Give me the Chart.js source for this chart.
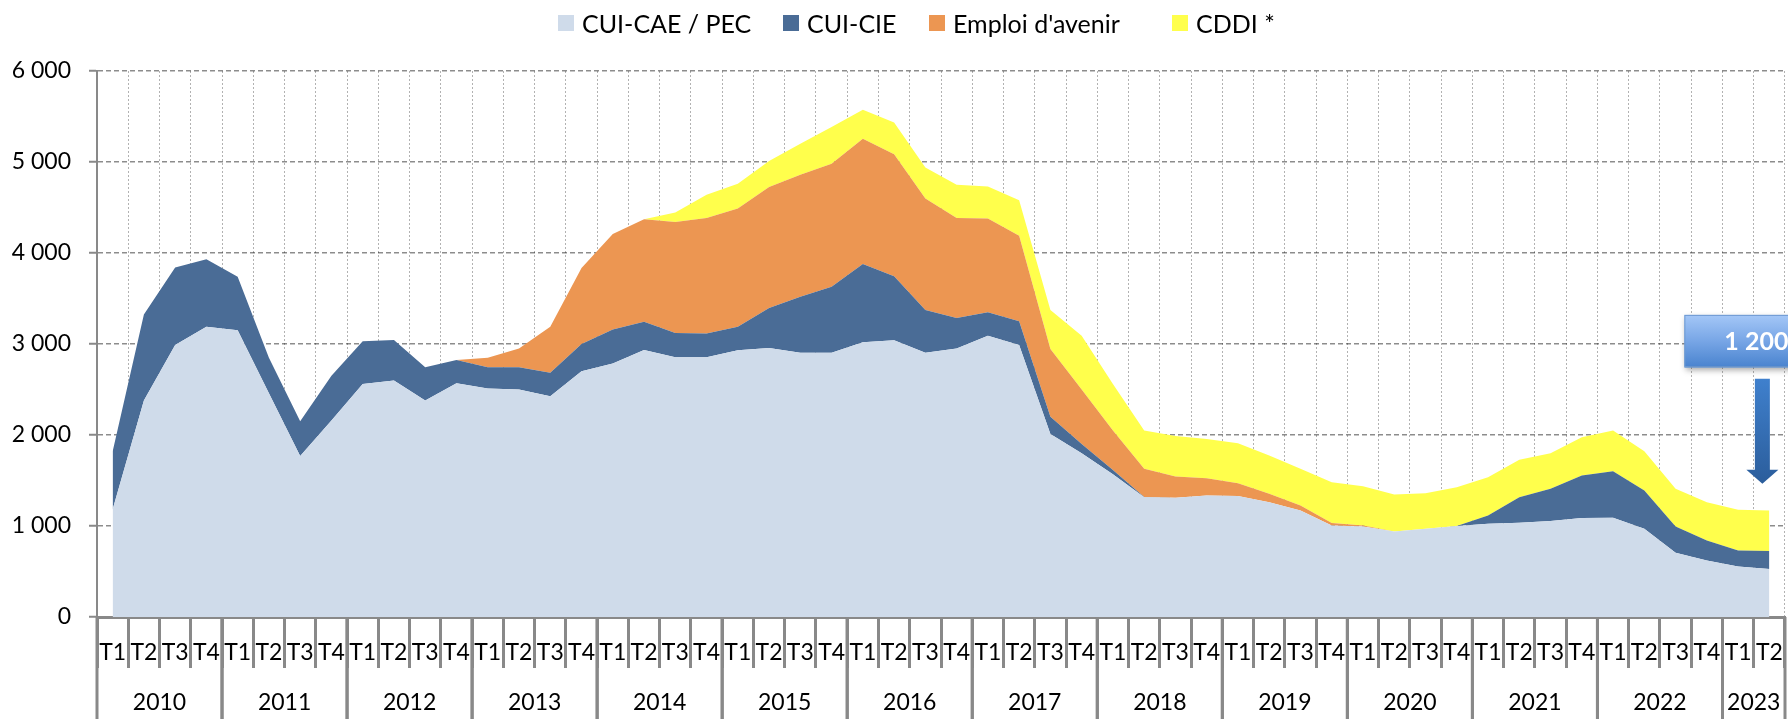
<!DOCTYPE html>
<html>
<head>
<meta charset="utf-8">
<script src="https://cdn.jsdelivr.net/npm/chart.js@4.4.0/dist/chart.umd.min.js"></script>
<style>
  body { margin: 0; background: #fff; }
  #wrap { position: relative; width: 1788px; height: 719px; }
  #legend { position: absolute; top: 0; left: 0; width: 1788px; height: 42px; font-family: Lato, sans-serif; font-size: 25px; color: #000; }
  #legend .item { position: absolute; top: 8px; height: 30px; display: flex; align-items: center; white-space: nowrap; }
  #legend .box { width: 16px; height: 16px; margin-right: 8px; }
</style>
</head>
<body>
<div id="wrap">
  <canvas id="myChart" width="1788" height="719"></canvas>
  <div id="legend"></div>
</div>
<script>
// données trimestrielles 2010 T1 -> 2023 T2
const years = ['2010', '2011', '2012', '2013', '2014', '2015', '2016', '2017', '2018', '2019', '2020', '2021', '2022', '2023']
const quarterNames = ['T1', 'T2', 'T3', 'T4']
const nbQuarters = 54
const seriesNames = ['CUI-CAE / PEC', 'CUI-CIE', "Emploi d'avenir", 'CDDI *']
const cuiCae = [1180, 2380, 2990, 3190, 3150, 2460, 1770, 2160, 2560, 2600, 2380, 2570, 2510, 2500, 2425, 2700, 2785, 2935, 2855, 2855, 2930, 2955, 2905, 2905, 3020, 3040, 2905, 2950, 3090, 2990, 2010, 1800, 1570, 1315, 1310, 1335, 1330, 1262, 1171, 1006, 995, 940, 970, 999, 1024, 1035, 1054, 1087, 1090, 970, 706, 622, 556, 527]
const cuiCie = [640, 945, 850, 740, 590, 390, 380, 490, 470, 445, 365, 255, 235, 245, 260, 300, 375, 310, 265, 260, 260, 440, 615, 725, 860, 705, 470, 335, 260, 260, 190, 100, 45, 5, 0, 0, 0, 0, 0, 0, 0, 0, 0, 0, 92, 282, 355, 468, 513, 420, 289, 220, 176, 197]
const emploiAvenir = [0, 0, 0, 0, 0, 0, 0, 0, 0, 0, 0, 0, 105, 205, 505, 835, 1050, 1125, 1220, 1270, 1300, 1330, 1340, 1350, 1375, 1340, 1225, 1100, 1030, 940, 745, 600, 435, 310, 235, 190, 140, 92, 55, 26, 11, 0, 0, 0, 0, 0, 0, 0, 0, 0, 0, 0, 0, 0]
const cddi = [0, 0, 0, 0, 0, 0, 0, 0, 0, 0, 0, 0, 0, 0, 0, 0, 0, 0, 105, 255, 270, 285, 340, 405, 320, 350, 340, 365, 350, 390, 430, 590, 510, 420, 445, 432, 440, 421, 402, 450, 432, 406, 391, 428, 421, 410, 391, 421, 446, 432, 414, 420, 446, 447]
const yTicks = [0, 1000, 2000, 3000, 4000, 5000, 6000]
const annotationText = '1 200'

const colors = ['#CFDBEA', '#4A6C96', '#EC9652', '#FFFF4C']
const legendX = [558, 783, 929, 1172]
const axisGrey = '#898989'
const fontFamily = 'Lato'

var categories = []
var categoryYears = []
years.forEach(function (year) {
  quarterNames.forEach(function (q) {
    if (categories.length < nbQuarters) {
      categories.push(q)
      categoryYears.push(year)
    }
  })
})

const fmt = (v) => String(v).replace(/\B(?=(\d{3})+(?!\d))/g, ' ')

// légende en html
const legend = document.getElementById('legend')
seriesNames.forEach(function (name, i) {
  const item = document.createElement('div')
  item.className = 'item'
  item.style.left = legendX[i] + 'px'
  item.innerHTML = '<span class="box" style="background:' + colors[i] + '"></span><span></span>'
  item.lastChild.textContent = name
  legend.appendChild(item)
})

// années sous les trimestres
const yearAxis = {
  id: 'yearAxis',
  afterDraw(chart) {
    const { ctx, chartArea, scales: { x } } = chart
    const half = (x.getPixelForValue(1) - x.getPixelForValue(0)) / 2
    ctx.save()
    ctx.strokeStyle = axisGrey
    ctx.lineWidth = 3
    ctx.fillStyle = '#000'
    ctx.font = '23px ' + fontFamily
    ctx.textAlign = 'center'
    ctx.textBaseline = 'middle'
    years.forEach(function (year) {
      const first = categoryYears.indexOf(year)
      const last = categoryYears.lastIndexOf(year)
      if (first < 0) return
      const left = x.getPixelForValue(first) - half
      const right = x.getPixelForValue(last) + half
      ;[left, right].forEach(function (px) {
        ctx.beginPath()
        ctx.moveTo(px, chartArea.bottom)
        ctx.lineTo(px, chart.height)
        ctx.stroke()
      })
      ctx.fillText(year, (left + right) / 2, 703)
    })
    ctx.restore()
  },
}

// encadré "1 200" et flèche
const annotation = {
  id: 'annotation',
  afterDraw(chart) {
    const { ctx, scales: { x, y } } = chart
    const cx = x.getPixelForValue(nbQuarters - 1) - 7
    const top = y.getPixelForValue(3320)
    const bottom = y.getPixelForValue(2750)
    const left = cx - 78
    ctx.save()
    ctx.shadowColor = 'rgba(0,0,0,0.35)'
    ctx.shadowBlur = 6
    ctx.shadowOffsetX = 2
    ctx.shadowOffsetY = 3
    let g = ctx.createLinearGradient(0, top, 0, bottom)
    g.addColorStop(0, '#A4C7F7')
    g.addColorStop(0.5, '#78A6E6')
    g.addColorStop(1, '#4A84CF')
    ctx.fillStyle = g
    ctx.fillRect(left, top, 160, bottom - top)
    ctx.shadowColor = 'transparent'
    ctx.strokeStyle = '#6E9AD2'
    ctx.lineWidth = 1
    ctx.strokeRect(left + 0.5, top + 0.5, 160, bottom - top)
    ctx.fillStyle = '#fff'
    ctx.font = 'bold 25px ' + fontFamily
    ctx.textBaseline = 'middle'
    ctx.fillText(annotationText, left + 40, (top + bottom) / 2 + 1)

    const shaftTop = bottom + 12
    const headTop = bottom + 103
    const tip = bottom + 117
    g = ctx.createLinearGradient(0, shaftTop, 0, tip)
    g.addColorStop(0, '#3F80CD')
    g.addColorStop(1, '#2B5D9B')
    ctx.fillStyle = g
    ctx.beginPath()
    ctx.moveTo(cx - 7.5, shaftTop)
    ctx.lineTo(cx + 7.5, shaftTop)
    ctx.lineTo(cx + 7.5, headTop)
    ctx.lineTo(cx + 16, headTop)
    ctx.lineTo(cx, tip)
    ctx.lineTo(cx - 16, headTop)
    ctx.lineTo(cx - 7.5, headTop)
    ctx.closePath()
    ctx.fill()
    ctx.restore()
  },
}

const ctx = document.getElementById('myChart').getContext('2d')
const series = [cuiCae, cuiCie, emploiAvenir, cddi]

const myChart = new Chart(ctx, {
  type: 'line',
  data: {
    labels: categories,
    datasets: series.map(function (values, i) {
      return {
        label: seriesNames[i],
        data: values,
        backgroundColor: colors[i],
        borderColor: colors[i],
        borderWidth: 0,
        pointRadius: 0,
        tension: 0,
        fill: i === 0 ? 'origin' : '-1',
      }
    }),
  },
  options: {
    responsive: false,
    animation: false,
    devicePixelRatio: 1,
    layout: { padding: { top: 71, right: 3, left: 0, bottom: 0 } },
    plugins: {
      legend: { display: false },
      tooltip: { enabled: false },
    },
    scales: {
      x: {
        offset: true,
        z: 1,
        afterFit: function (scale) {
          scale.height = 102
        },
        grid: {
          offset: true,
          color: 'rgba(0,0,0,0.3)',
          lineWidth: 1,
          tickLength: 51,
          tickColor: axisGrey,
          tickWidth: 3,
          tickBorderDash: [],
        },
        border: { color: axisGrey, width: 3, dash: [2, 2] },
        ticks: {
          color: '#000',
          padding: -29,
          maxRotation: 0,
          autoSkip: false,
          font: { family: fontFamily, size: 23 },
        },
      },
      y: {
        stacked: true,
        min: 0,
        max: 6000,
        z: 1,
        afterFit: function (scale) {
          scale.width = 97
        },
        afterBuildTicks: function (scale) {
          scale.ticks = yTicks.map((v) => ({ value: v }))
        },
        grid: {
          color: 'rgba(0,0,0,0.45)',
          lineWidth: 1.5,
          tickLength: 8,
          tickColor: axisGrey,
          tickWidth: 2,
          tickBorderDash: [],
        },
        border: { color: axisGrey, width: 2, dash: [5, 3] },
        ticks: {
          color: '#000',
          padding: 18,
          font: { family: fontFamily, size: 23 },
          callback: (v) => fmt(v),
        },
      },
    },
  },
  plugins: [yearAxis, annotation],
})
</script>
</body>
</html>
